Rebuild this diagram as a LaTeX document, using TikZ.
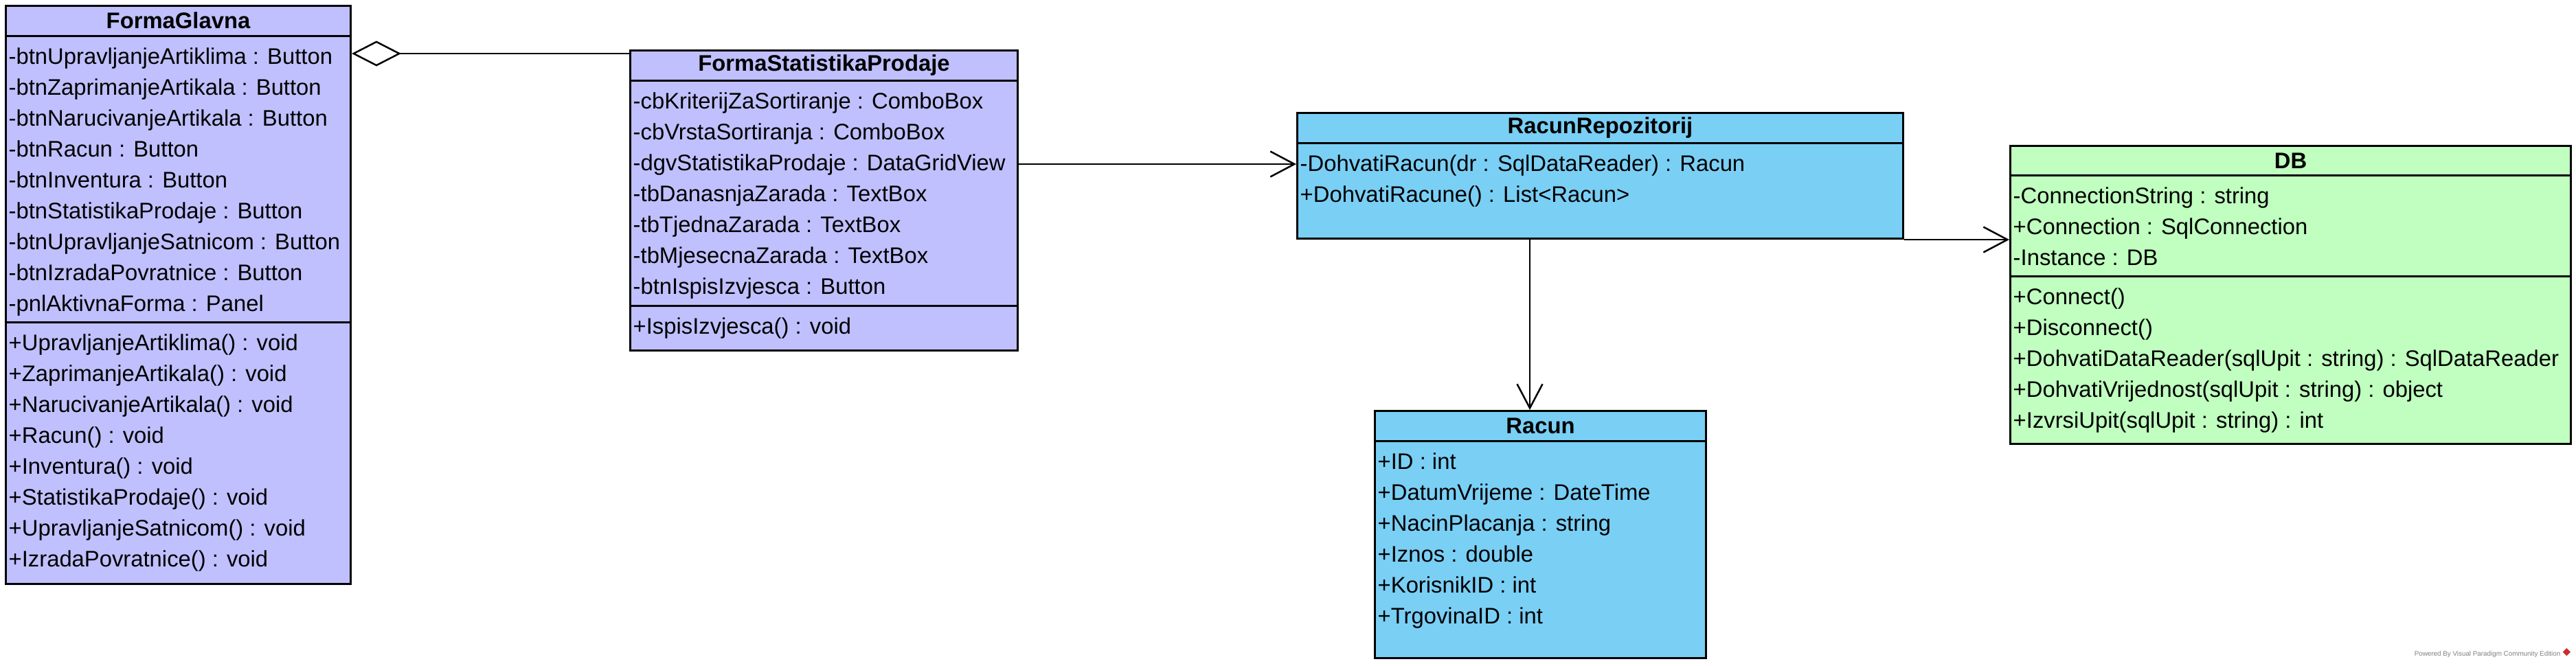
\documentclass[tikz,border=0pt]{standalone}
\usepackage{fontspec}
\setmainfont{Liberation Sans}
\usepackage{tikz}
\usepackage{xcolor}
\usetikzlibrary{calc}
\usetikzlibrary{positioning, arrows.meta}

\definecolor{formfill}{RGB}{192,192,255}
\definecolor{repofill}{RGB}{122,207,245}
\definecolor{dbfill}{RGB}{192,255,192}
\definecolor{vpred}{RGB}{205,45,45}

\newcommand{\rowstrut}{\rule[-0.1cm]{0pt}{0.45cm}}

\begin{document}
\begin{tikzpicture}[
    classbox/.style={draw, line width=0.03cm, anchor=north west, inner sep=0pt},
    classtitle/.style={anchor=north, minimum height=0.45cm, inner sep=0pt, font=\fontsize{9.33}{11}\selectfont\bfseries},
    members/.style={anchor=north west, align=left, inner xsep=0.05cm, inner ysep=0.06cm, font=\fontsize{9.33}{12.8}\selectfont},
    classline/.style={line width=0.03cm},
    conn/.style={line width=0.025cm},
    uses/.style={conn, -{Straight Barb[length=0.35cm, width=0.37cm]}},
    aggregation/.style={conn, {Diamond[fill=white, length=0.72cm, width=0.37cm]}-}
]
    \useasboundingbox (0,0) rectangle (37.5,-9.69);

    % FormaGlavna class
    \node[classbox, fill=formfill, minimum width=5.02cm, minimum height=8.42cm] (FG) at (0.07,-0.07) {};
    \node[classtitle] (FGtitle) at (FG.north) {FormaGlavna};
    \coordinate (FGs1) at ([yshift=-0.45cm]FG.north west);
    \coordinate (FGs2) at ([yshift=-4.62cm]FG.north west);
    \draw[classline] (FGs1) -- (FGs1 -| FG.east);
    \draw[classline] (FGs2) -- (FGs2 -| FG.east);
    \node[members] (FGattr) at (FGs1) {\rowstrut-btnUpravljanjeArtiklima : Button\\
        -btnZaprimanjeArtikala : Button\\
        -btnNarucivanjeArtikala : Button\\
        -btnRacun : Button\\
        -btnInventura : Button\\
        -btnStatistikaProdaje : Button\\
        -btnUpravljanjeSatnicom : Button\\
        -btnIzradaPovratnice : Button\\
        -pnlAktivnaForma : Panel};
    \node[members] (FGops) at (FGs2) {\rowstrut+UpravljanjeArtiklima() : void\\
        +ZaprimanjeArtikala() : void\\
        +NarucivanjeArtikala() : void\\
        +Racun() : void\\
        +Inventura() : void\\
        +StatistikaProdaje() : void\\
        +UpravljanjeSatnicom() : void\\
        +IzradaPovratnice() : void};

    % FormaStatistikaProdaje class
    \node[classbox, fill=formfill, minimum width=5.64cm, minimum height=4.37cm] (FSP) at (9.16,-0.72) {};
    \node[classtitle] (FSPtitle) at (FSP.north) {FormaStatistikaProdaje};
    \coordinate (FSPs1) at ([yshift=-0.45cm]FSP.north west);
    \coordinate (FSPs2) at ([yshift=-3.73cm]FSP.north west);
    \draw[classline] (FSPs1) -- (FSPs1 -| FSP.east);
    \draw[classline] (FSPs2) -- (FSPs2 -| FSP.east);
    \node[members] (FSPattr) at (FSPs1) {\rowstrut-cbKriterijZaSortiranje : ComboBox\\
        -cbVrstaSortiranja : ComboBox\\
        -dgvStatistikaProdaje : DataGridView\\
        -tbDanasnjaZarada : TextBox\\
        -tbTjednaZarada : TextBox\\
        -tbMjesecnaZarada : TextBox\\
        -btnIspisIzvjesca : Button};
    \node[members] (FSPops) at (FSPs2) {\rowstrut+IspisIzvjesca() : void};

    % RacunRepozitorij class
    \node[classbox, fill=repofill, minimum width=8.82cm, minimum height=1.83cm] (RR) at (18.87,-1.63) {};
    \node[classtitle] (RRtitle) at (RR.north) {RacunRepozitorij};
    \coordinate (RRs1) at ([yshift=-0.45cm]RR.north west);
    \draw[classline] (RRs1) -- (RRs1 -| RR.east);
    \node[members] (RRops) at (RRs1) {\rowstrut-DohvatiRacun(dr : SqlDataReader) : Racun\\
        +DohvatiRacune() : List<Racun>};

    % Racun class
    \node[classbox, fill=repofill, minimum width=4.82cm, minimum height=3.60cm] (Racun) at (20.00,-5.97) {};
    \node[classtitle] (Racuntitle) at (Racun.north) {Racun};
    \coordinate (Racuns1) at ([yshift=-0.45cm]Racun.north west);
    \draw[classline] (Racuns1) -- (Racuns1 -| Racun.east);
    \node[members] (Racunattr) at (Racuns1) {\rowstrut+ID : int\\
        +DatumVrijeme : DateTime\\
        +NacinPlacanja : string\\
        +Iznos : double\\
        +KorisnikID : int\\
        +TrgovinaID : int};

    % DB class
    \node[classbox, fill=dbfill, minimum width=8.16cm, minimum height=4.34cm] (DB) at (29.25,-2.11) {};
    \node[classtitle] (DBtitle) at (DB.north) {DB};
    \coordinate (DBs1) at ([yshift=-0.44cm]DB.north west);
    \coordinate (DBs2) at ([yshift=-1.91cm]DB.north west);
    \draw[classline] (DBs1) -- (DBs1 -| DB.east);
    \draw[classline] (DBs2) -- (DBs2 -| DB.east);
    \node[members] (DBattr) at (DBs1) {\rowstrut-ConnectionString : string\\
        +Connection : SqlConnection\\
        -Instance : DB};
    \node[members] (DBops) at (DBs2) {\rowstrut+Connect()\\
        +Disconnect()\\
        +DohvatiDataReader(sqlUpit : string) : SqlDataReader\\
        +DohvatiVrijednost(sqlUpit : string) : object\\
        +IzvrsiUpit(sqlUpit : string) : int};

    % Connectors between classes
    \coordinate (aggIn) at ([yshift=-0.06cm]FSP.north west);
    \draw[aggregation] (aggIn -| FG.east) -- (aggIn);
    \coordinate (rrIn) at ([yshift=-0.76cm]RR.north west);
    \draw[uses] (rrIn -| FSP.east) -- (rrIn);
    \coordinate (racunIn) at ([xshift=2.27cm]Racun.north west);
    \draw[uses] (racunIn |- RR.south) -- (racunIn);
    \draw[uses] (RR.south east) -- (RR.south east -| DB.west);

    % Watermark
    \node[anchor=east, inner sep=0pt, text=gray, font=\fontsize{2.8}{3}\selectfont] (vpnote) at (37.28,-9.53) {Powered By Visual Paradigm Community Edition};
    \node[fill=vpred, minimum size=0.08cm, inner sep=0pt, rotate=45, right=0.05cm of vpnote] (vplogo) {};
\end{tikzpicture}
\end{document}
